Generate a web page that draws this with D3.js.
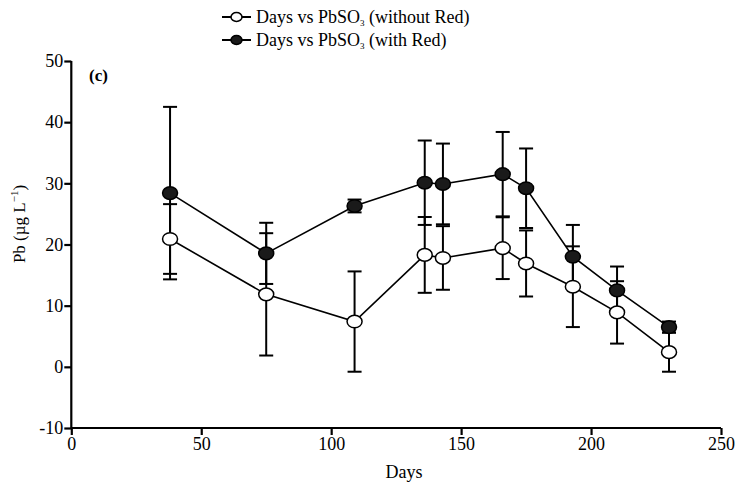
<!DOCTYPE html>
<html><head><meta charset="utf-8">
<script src="https://cdn.jsdelivr.net/npm/d3@7"></script>
<style>body{margin:0;background:#fff}svg{display:block}text{font-family:"Liberation Serif","Times New Roman",serif;fill:#000}</style>
</head><body><svg id="c" width="738" height="487"></svg>
<script>
const days = [38, 75, 109, 136, 143, 166, 175, 193, 210, 230];
const withoutRed = [20.9, 11.85, 7.4, 18.3, 17.8, 19.4, 16.9, 13.1, 8.9, 2.4];
const withoutRedErr = [5.7, 10.0, 8.2, 6.2, 5.2, 5.05, 5.4, 6.6, 5.1, 3.2];
const withRed = [28.4, 18.55, 26.3, 30.1, 29.9, 31.5, 29.2, 18.0, 12.5, 6.5];
const withRedErr = [14.1, 5.0, 1.05, 6.9, 6.6, 6.9, 6.5, 5.2, 3.9, 0.9];
const xTicks = [0, 50, 100, 150, 200, 250];
const yTicks = [-10, 0, 10, 20, 30, 40, 50];
const seriesNames = ["Days vs PbSO", "Days vs PbSO"];

const svg = d3.select("#c");
const x = d3.scaleLinear().domain([0, 250]).range([71.3, 721]);
const y = d3.scaleLinear().domain([-10, 50]).range([428, 61]);
const FONT = "'Liberation Serif', 'Times New Roman', serif";

const gx = svg.append("g").attr("transform", `translate(0,${y(-10)})`)
  .call(d3.axisBottom(x).tickValues(xTicks).tickSize(7).tickPadding(2).tickFormat(d3.format("d")));
const gy = svg.append("g").attr("transform", `translate(${x(0)},0)`)
  .call(d3.axisLeft(y).tickValues(yTicks).tickSize(7).tickPadding(1).tickFormat(d => d < 0 ? "-" + Math.abs(d) : d));
[gx, gy].forEach(g => {
  g.attr("font-family", FONT).attr("font-size", 18);
  g.select(".domain").attr("stroke", "#000").attr("stroke-width", 2.2);
  g.selectAll(".tick line").attr("stroke", "#000").attr("stroke-width", 2.2);
  g.selectAll(".tick text").attr("font-size", 18);
});
gx.select(".domain").attr("d", `M${x(0)},0H${x(250)}`);
gy.select(".domain").attr("d", `M0,${y(50)}V${y(-10)}`);

svg.append("text").attr("x", 404).attr("y", 478).attr("text-anchor", "middle")
  .attr("font-size", 18).text("Days");
const yl = svg.append("text").attr("transform", `translate(25,224) rotate(-90)`)
  .attr("text-anchor", "middle").attr("font-size", 17);
yl.append("tspan").text("Pb (µg L");
yl.append("tspan").attr("dy", -7).attr("font-size", 11).text("−1");
yl.append("tspan").attr("dy", 7).text(")");

svg.append("text").attr("x", 89).attr("y", 81).attr("font-size", 17).attr("font-weight", "bold").text("(c)");

const series = [
  {vals: withoutRed, err: withoutRedErr, fill: "#fff", label: "(without Red)"},
  {vals: withRed, err: withRedErr, fill: "#1a1a1a", label: "(with Red)"}
];
const line = d3.line().x((d, i) => x(days[i])).y(d => y(d));

// error bars
series.forEach(s => {
  const g = svg.append("g").attr("stroke", "#000").attr("stroke-width", 2);
  s.vals.forEach((v, i) => {
    const cx = x(days[i]), t = y(v + s.err[i]), b = y(v - s.err[i]);
    g.append("line").attr("x1", cx).attr("x2", cx).attr("y1", t).attr("y2", b);
    g.append("line").attr("x1", cx - 7).attr("x2", cx + 7).attr("y1", t).attr("y2", t);
    g.append("line").attr("x1", cx - 7).attr("x2", cx + 7).attr("y1", b).attr("y2", b);
  });
});
series.forEach(s => {
  svg.append("path").attr("d", line(s.vals)).attr("fill", "none").attr("stroke", "#000").attr("stroke-width", 1.6);
});
series.forEach(s => {
  svg.append("g").selectAll("ellipse").data(s.vals).join("ellipse")
    .attr("cx", (d, i) => x(days[i])).attr("cy", d => y(d)).attr("rx", 7.5).attr("ry", 6.3)
    .attr("fill", s.fill).attr("stroke", "#000").attr("stroke-width", 1.5);
});

// legend
series.forEach((s, i) => {
  const ly = 17 + i * 23;
  svg.append("line").attr("x1", 222).attr("x2", 251).attr("y1", ly).attr("y2", ly).attr("stroke", "#000").attr("stroke-width", 2);
  svg.append("ellipse").attr("cx", 236.5).attr("cy", ly).attr("rx", 5.5).attr("ry", 4.5)
    .attr("fill", s.fill).attr("stroke", "#000").attr("stroke-width", 1.5);
  const t = svg.append("text").attr("x", 256).attr("y", ly + 6).attr("font-size", 18);
  t.append("tspan").text(seriesNames[i]);
  t.append("tspan").attr("font-size", 9).attr("dy", 3).text("3");
  t.append("tspan").attr("dy", -3).text(" " + s.label);
});
</script></body></html>
